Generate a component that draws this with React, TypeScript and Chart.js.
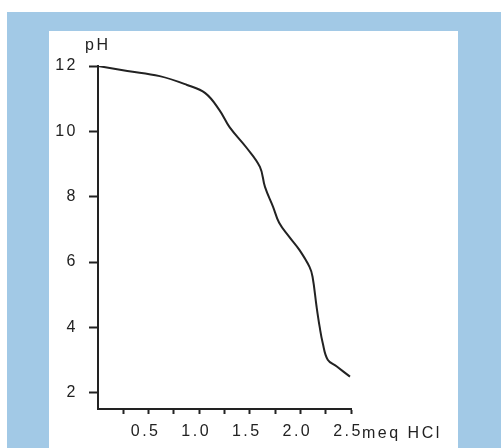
import React, { useEffect, useRef } from "react";
import { Chart, registerables } from "chart.js";

Chart.register(...registerables);

const meqHCl = [0, 0.29, 0.61, 0.88, 1.06, 1.2, 1.3, 1.47, 1.6, 1.65, 1.73, 1.79, 1.89, 1.99, 2.09, 2.12, 2.16, 2.19, 2.22, 2.27, 2.36, 2.49];
const pH = [12, 11.85, 11.69, 11.42, 11.17, 10.65, 10.13, 9.49, 8.91, 8.3, 7.69, 7.2, 6.77, 6.37, 5.85, 5.55, 4.63, 4.02, 3.53, 3.01, 2.8, 2.49];
const yTitle = "pH";
const xUnit = "meq HCl";

const INK = "#222222";
const FONT = "Liberation Sans, Arial, sans-serif";

export default function App() {
  const ref = useRef<HTMLCanvasElement | null>(null);

  useEffect(() => {
    if (!ref.current) return;
    const textPlugin = {
      id: "extraText",
      beforeDraw(chart: any) {
        (chart.ctx as any).letterSpacing = "2.5px";
      },
      afterDraw(chart: any) {
        const ctx = chart.ctx;
        const area = chart.chartArea;
        ctx.save();
        (ctx as any).letterSpacing = "2.5px";
        ctx.fillStyle = INK;
        ctx.font = `16px ${FONT}`;
        ctx.textAlign = "left";
        ctx.textBaseline = "alphabetic";
        ctx.fillText(yTitle, area.left - 13, area.top - 16);
        ctx.fillText(xUnit, area.right + 11, area.bottom + 29);
        ctx.restore();
      },
    };
    const chart = new Chart(ref.current, {
      type: "line",
      data: {
        datasets: [
          {
            data: meqHCl.map((x, i) => ({ x, y: pH[i] })),
            borderColor: INK,
            borderWidth: 2,
            pointRadius: 0,
            tension: 0.4,
            fill: false,
          },
        ],
      },
      options: {
        animation: false,
        responsive: false,
        maintainAspectRatio: false,
        events: [],
        layout: { padding: { left: 0, top: 66, right: 150, bottom: 0 } },
        plugins: { legend: { display: false }, tooltip: { enabled: false }, title: { display: false } },
        scales: {
          x: {
            type: "linear",
            min: 0,
            max: 2.5,
            afterFit: (s: any) => {
              s.height = 39;
            },
            border: { display: true, color: INK, width: 2 },
            grid: {
              drawOnChartArea: false,
              drawTicks: true,
              tickLength: 5,
              tickWidth: 2,
              color: (c: any) => (c.tick && Math.abs(c.tick.value) < 1e-9 ? "rgba(0,0,0,0)" : INK),
            },
            ticks: {
              stepSize: 0.25,
              autoSkip: false,
              maxRotation: 0,
              padding: 8,
              labelOffset: -3,
              color: INK,
              font: { family: FONT, size: 16 },
              callback: (v: any) => {
                const n = Number(v);
                if (n < 1e-9) return "";
                return Math.abs(n * 2 - Math.round(n * 2)) < 1e-6 ? n.toFixed(1) : "";
              },
            },
          },
          y: {
            type: "linear",
            min: 1.5,
            max: 12,
            afterFit: (s: any) => {
              s.width = 98;
            },
            border: { display: true, color: INK, width: 2 },
            grid: {
              drawOnChartArea: false,
              drawTicks: true,
              tickLength: 9,
              tickWidth: 2,
              color: INK,
            },
            ticks: {
              stepSize: 2,
              includeBounds: false,
              padding: 11,
              color: INK,
              font: { family: FONT, size: 16 },
              callback: (v: any) => String(v),
            },
          },
        },
      },
      plugins: [textPlugin],
    });
    return () => chart.destroy();
  }, []);

  return (
    <div style={{ position: "fixed", left: 0, top: 0, width: 501, height: 448, background: "#ffffff", overflow: "hidden" }}>
      <div style={{ position: "absolute", left: 7, top: 12, width: 494, height: 436, background: "#a2c9e6" }} />
      <div style={{ position: "absolute", left: 49, top: 31, width: 409, height: 417, background: "#ffffff" }} />
      <canvas ref={ref} width={501} height={448} style={{ position: "absolute", left: 0, top: 0, width: 501, height: 448 }} />
    </div>
  );
}
